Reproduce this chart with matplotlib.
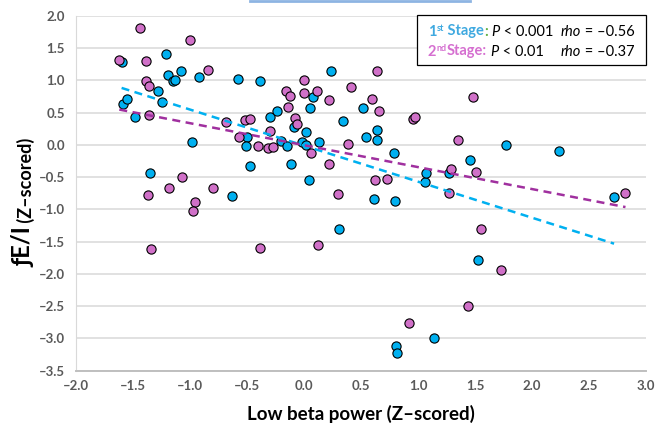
import numpy as np
import matplotlib
matplotlib.use("Agg")
import matplotlib.pyplot as plt
import matplotlib.ticker as ticker
from matplotlib.transforms import IdentityTransform
from matplotlib.lines import Line2D
from matplotlib.patches import Rectangle

plt.rcParams["font.family"] = ["Lato", "DejaVu Sans"]

# 1st stage (blue)
stage1_x = [-1.60, -1.59, -1.55, -1.48, -1.35, -1.28, -1.25, -1.21, -1.19, -1.15,
            -1.13, -1.08, -0.98, -0.92, -0.63, -0.58, -0.50, -0.51, -0.47, -0.39,
            -0.30, -0.24, -0.20, -0.15, -0.11, -0.09, -0.02, 0.02, 0.02, 0.04,
            0.05, 0.08, 0.13, 0.24, 0.31, 0.34, 0.52, 0.54, 0.61, 0.64,
            0.64, 0.79, 0.80, 0.81, 0.82, 1.06, 1.07, 1.14, 1.27, 1.46,
            1.53, 1.77, 2.24, 2.72]
stage1_y = [1.29, 0.63, 0.72, 0.43, -0.44, 0.84, 0.66, 1.41, 1.09, 0.99,
            1.01, 1.15, 0.05, 1.05, -0.79, 1.02, 0.12, -0.02, -0.32, 0.99,
            0.44, 0.52, 0.06, -0.01, -0.30, 0.28, 0.05, 0.20, 0.00, -0.54,
            0.57, 0.75, 0.04, 1.14, -1.30, 0.37, 0.57, 0.13, -0.83, 0.23,
            0.07, -0.12, -0.87, -3.12, -3.22, -0.57, -0.43, -2.99, -0.43, -0.24,
            -1.78, 0.00, -0.10, -0.81]

# 2nd stage (pink)
stage2_x = [-1.62, -1.44, -1.39, -1.39, -1.36, -1.36, -1.37, -1.34, -1.18, -1.07,
            -1.00, -0.96, -0.97, -0.84, -0.80, -0.68, -0.57, -0.52, -0.47, -0.40,
            -0.39, -0.32, -0.27, -0.30, -0.16, -0.12, -0.14, -0.08, -0.06, 0.00,
            0.00, 0.06, 0.11, 0.12, 0.22, 0.22, 0.30, 0.39, 0.41, 0.60,
            0.62, 0.64, 0.66, 0.73, 0.92, 0.96, 0.97, 1.27, 1.29, 1.35,
            1.44, 1.48, 1.51, 1.55, 1.73, 2.82]
stage2_y = [1.31, 1.82, 1.30, 0.99, 0.92, 0.46, -0.78, -1.62, -0.67, -0.49,
            1.63, -0.88, -1.03, 1.16, -0.67, 0.35, 0.13, 0.39, 0.41, -0.02,
            -1.59, -0.04, -0.03, 0.22, 0.83, 0.76, 0.59, 0.42, 0.33, 1.00,
            0.80, -0.12, 0.84, -1.55, 0.70, -0.29, -0.76, 0.02, 0.90, 0.72,
            -0.54, 1.15, 0.53, -0.52, -2.76, 0.40, 0.43, -0.75, -0.37, 0.07,
            -2.50, 0.75, -0.42, -1.31, -1.94, -0.75]

BLUE = "#00B0F0"
PINK = "#D070C8"
PURPLE = "#A0309F"
TXT_BLUE = "#3FA9E0"
TXT_PINK = "#D56FD0"
GREEN = "#5FAF3F"

W, H = 656, 424
fig = plt.figure(figsize=(W / 100, H / 100), dpi=100)
ax = fig.add_axes([76 / W, 1 - 370.7 / H, 570 / W, 354.7 / H])

ax.scatter(stage1_x, stage1_y, s=44, color=BLUE, edgecolor="black", linewidth=0.8, zorder=3)
ax.scatter(stage2_x, stage2_y, s=44, color=PINK, edgecolor="black", linewidth=0.8, zorder=3)

# linear trendlines over each data range
for xs, ys, col in [(stage1_x, stage1_y, BLUE), (stage2_x, stage2_y, PURPLE)]:
    k, b = np.polyfit(xs, ys, 1)
    xr = np.array([min(xs), max(xs)])
    ax.plot(xr, k * xr + b, color=col, lw=1.8, dashes=(3.2, 2.2), zorder=4)

ax.set_xlim(-2, 3)
ax.set_ylim(-3.5, 2)
ax.xaxis.set_major_locator(ticker.MultipleLocator(0.5))
ax.yaxis.set_major_locator(ticker.MultipleLocator(0.5))
fmt = ticker.FuncFormatter(lambda v, p: f"{v:.1f}".replace("-", "\u2013"))
ax.xaxis.set_major_formatter(fmt)
ax.yaxis.set_major_formatter(fmt)
ax.tick_params(length=0, labelsize=9.5, labelcolor="#595959")
ax.tick_params(axis="y", pad=8)
ax.tick_params(axis="x", pad=7)
for lab in ax.get_xticklabels() + ax.get_yticklabels():
    lab.set_fontweight("bold")
ax.grid(axis="y", color="#D9D9D9", lw=1.1)
ax.set_axisbelow(True)
ax.spines["top"].set_visible(False)
ax.spines["right"].set_visible(False)
ax.spines["left"].set_color("#D9D9D9")
ax.spines["bottom"].set_color("#BFBFBF")
ax.spines["bottom"].set_linewidth(1.4)

ax.set_xlabel("Low beta power (Z\u2013scored)", fontsize=13.5, fontweight="bold", labelpad=9)

renderer = fig.canvas.get_renderer()


def runs(x, y, parts, rotation=0):
    # draw text chunks one after another along the baseline (pixel coords, origin top-left)
    for text, kw in parts:
        kw = dict(kw)
        rise = kw.pop("rise", 0)
        if rotation:
            px, py = x - rise, H - y
        else:
            px, py = x, H - y + rise
        t = fig.text(px, py, text, transform=IdentityTransform(), rotation=rotation,
                     rotation_mode="anchor", ha="left", va="baseline", **kw)
        bb = t.get_window_extent(renderer)
        if rotation:
            y = H - bb.y1
        else:
            x = bb.x1
    return x, y


# y label: big "fE/I" then smaller "(Z-scored)"
runs(32, 267, [("\u0192E/I", dict(fontsize=17, fontweight="bold")),
               (" (Z\u2013scored)", dict(fontsize=13, fontweight="bold"))], rotation=90)

# legend box
fig.add_artist(Rectangle((417, H - 65), 229, 50, transform=IdentityTransform(),
                         facecolor="white", edgecolor="black", lw=0.9, zorder=5))
fs = 10.5
b = dict(fontsize=fs, fontweight="bold", zorder=6)
n = dict(fontsize=fs, color="black", zorder=6)
it = dict(fontsize=fs, color="black", style="italic", zorder=6)
sup = dict(fontsize=6.5, fontweight="bold", rise=4.5, zorder=6)

x1, _ = runs(428, 35.5, [("1", dict(b, color=TXT_BLUE)), ("st", dict(sup, color=TXT_BLUE)),
                         (" Stage", dict(b, color=TXT_BLUE)), (":", dict(b, color=GREEN)),
                         (" ", n), ("P", it), (" < 0.001  ", n)])
runs(x1, 35.5, [("rho", it), (" = \u20130.56", n)])
runs(428, 55.5, [("2", dict(b, color=TXT_PINK)), ("nd", dict(sup, color=TXT_PINK)),
                 ("Stage:", dict(b, color=TXT_PINK)), (" ", n), ("P", it), (" < 0.01", n)])
runs(x1, 55.5, [("rho", it), (" = \u20130.37", n)])

# light blue rule at the very top of the page
fig.add_artist(Line2D([250 / W, 470 / W], [0.998, 0.998], color="#8DB4E2", lw=2))

fig.savefig("out.png", dpi=100)
